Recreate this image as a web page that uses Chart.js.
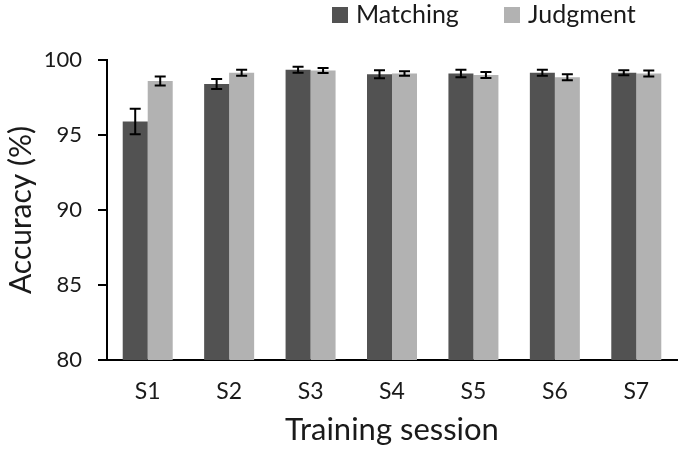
<!DOCTYPE html>
<html>
<head>
<meta charset="utf-8">
<script src="https://cdn.jsdelivr.net/npm/chart.js@4.4.1/dist/chart.umd.min.js"></script>
<style>
  html, body { margin: 0; padding: 0; background: #fff; }
  #wrap { width: 685px; height: 451px; }
</style>
</head>
<body>
<div id="wrap"><canvas id="accChart"></canvas></div>
<script>
// data
const sessions = ["S1", "S2", "S3", "S4", "S5", "S6", "S7"];
const matching = [95.9, 98.4, 99.35, 99.05, 99.1, 99.15, 99.15];
const matchingErr = [0.85, 0.33, 0.2, 0.27, 0.25, 0.2, 0.17];
const judgment = [98.6, 99.15, 99.3, 99.1, 99.0, 98.85, 99.1];
const judgmentErr = [0.3, 0.2, 0.17, 0.15, 0.2, 0.2, 0.2];
const yTicks = [80, 85, 90, 95, 100];

const FONT = "Lato, 'Open Sans', sans-serif";
const TEXT = "#1a1a1a";

// error bars drawn from the bar elements + y scale
const errorBars = {
    id: 'errorBars',
    afterDatasetsDraw(chart) {
        const ctx = chart.ctx;
        const y = chart.scales.y;
        ctx.save();
        ctx.strokeStyle = "#000";
        ctx.lineWidth = 2;
        chart.data.datasets.forEach((ds, di) => {
            const meta = chart.getDatasetMeta(di);
            meta.data.forEach((bar, i) => {
                const v = ds.data[i], e = ds.errors[i];
                const top = y.getPixelForValue(v + e);
                const bot = y.getPixelForValue(v - e);
                const cap = 5.5;
                ctx.beginPath();
                ctx.moveTo(bar.x, top); ctx.lineTo(bar.x, bot);
                ctx.moveTo(bar.x - cap, top); ctx.lineTo(bar.x + cap, top);
                ctx.moveTo(bar.x - cap, bot); ctx.lineTo(bar.x + cap, bot);
                ctx.stroke();
            });
        });
        ctx.restore();
    }
};

// legend in the top right, square swatches
const squareLegend = {
    id: 'squareLegend',
    afterDraw(chart) {
        const ctx = chart.ctx;
        const xs = [332, 504];
        ctx.save();
        ctx.font = "25px " + FONT;
        ctx.textBaseline = "middle";
        chart.data.datasets.forEach((ds, i) => {
            ctx.fillStyle = ds.backgroundColor;
            ctx.fillRect(xs[i], 7, 16, 16);
            ctx.fillStyle = TEXT;
            ctx.fillText(ds.label, xs[i] + 24, 15);
        });
        ctx.restore();
    }
};

new Chart(document.getElementById('accChart'), {
    type: 'bar',
    data: {
        labels: sessions,
        datasets: [
            { label: "Matching", data: matching, errors: matchingErr, backgroundColor: "#525252" },
            { label: "Judgment", data: judgment, errors: judgmentErr, backgroundColor: "#b2b2b2" }
        ]
    },
    options: {
        responsive: true,
        maintainAspectRatio: false,
        animation: false,
        datasets: {
            bar: { categoryPercentage: 0.614, barPercentage: 1.0 }
        },
        layout: { padding: { top: 60, right: 8, bottom: 0, left: 0 } },
        plugins: {
            legend: { display: false },
            tooltip: { enabled: false }
        },
        scales: {
            x: {
                grid: { display: false },
                border: { display: true, color: "#000", width: 2 },
                ticks: { color: TEXT, font: { family: FONT, size: 23 }, padding: 10 },
                title: {
                    display: true,
                    text: "Training session",
                    color: TEXT,
                    font: { family: FONT, size: 31 },
                    padding: { top: 0, bottom: 2 }
                },
                afterFit(scale) { scale.height = 91; }
            },
            y: {
                min: 80,
                max: 100,
                afterBuildTicks(scale) { scale.ticks = yTicks.map(v => ({ value: v })); },
                grid: { display: true, drawOnChartArea: false, drawTicks: true, tickLength: 9, color: "#000", lineWidth: 2 },
                border: { display: true, color: "#000", width: 2 },
                ticks: { color: TEXT, font: { family: FONT, size: 22 }, padding: 16 },
                title: {
                    display: true,
                    text: "Accuracy (%)",
                    color: TEXT,
                    font: { family: FONT, size: 30 },
                    padding: { top: 3, bottom: 0 }
                },
                afterFit(scale) { scale.width = 107; }
            }
        }
    },
    plugins: [errorBars, squareLegend]
});
</script>
</body>
</html>
